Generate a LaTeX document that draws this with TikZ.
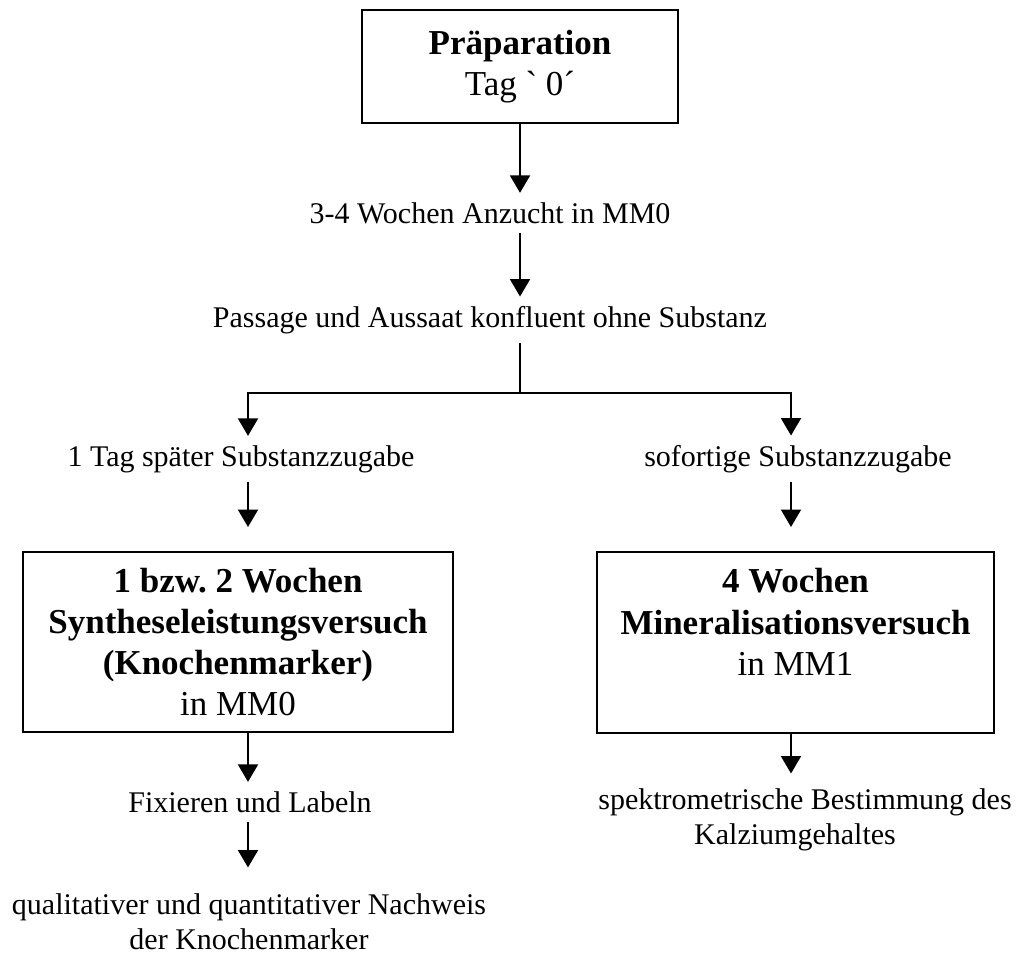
\documentclass[tikz,border=0pt]{standalone}
\usepackage{fontspec}
\setmainfont{Liberation Serif}
\usepackage{tikz}
\usetikzlibrary{arrows.meta, positioning, calc}
\frenchspacing

\begin{document}
\begin{tikzpicture}[x=0.4pt, y=-0.4pt, line width=0.8pt,
		Arr/.style={-{Triangle[width=8pt,length=7pt]}},
		Box/.style={
			draw,
			align=center,
			inner sep=0pt,
			font=\fontsize{14}{16.5}\selectfont
		},
		Note/.style={
			align=center,
			font=\fontsize{12}{13.8}\selectfont
		}]
		\useasboundingbox (0,0) rectangle (1026,953);
		% boxes
		\node[Box, minimum width=126.4pt, minimum height=45.2pt] (prep) at (520,66.5)
			{\textbf{Präparation}\\Tag \textasciigrave{} 0\textasciiacute};
		\node[Box, minimum width=172pt, minimum height=72pt] (synth) at (238,642)
			{\textbf{1 bzw. 2 Wochen}\\\textbf{Syntheseleistungsversuch}\\\textbf{(Knochenmarker)}\\in MM0};
		\node[Box, minimum width=158.8pt, minimum height=72.4pt] (miner) at (795.5,642.5)
			{\textbf{4 Wochen}\\\textbf{Mineralisationsversuch}\\in MM1\\\mbox{}};
		% texts between the boxes
		\node[Note, anchor=base] (anz) at (490,223) {3-4 Wochen Anzucht in MM0};
		\node[Note, anchor=base] (pass) at (490,327) {Passage und Aussaat konfluent ohne Substanz};
		\node[Note, anchor=base] (later) at (241,466) {1 Tag später Substanzzugabe};
		\node[Note, anchor=base] (sofort) at (798,466) {sofortige Substanzzugabe};
		\node[Note, anchor=base] (fix) at (250,812) {Fixieren und Labeln};
		\node[Note, anchor=north] (nachw) at (249,884.5)
			{qualitativer und quantitativer Nachweis\\der Knochenmarker};
		\node[Note, anchor=north] (spek) at (805,779.5)
			{spektrometrische Bestimmung des\\Kalziumgehaltes\hspace*{8pt}};
		\coordinate (fork) at (520,393);
		\coordinate (lcol) at (248,393);
		\coordinate (rcol) at (791,393);
		% arrows
		\draw[Arr] (prep.south) -- (prep.south |- anz.north);
		\draw[Arr] (fork |- anz.south) -- (fork |- pass.north);
		\draw (fork |- pass.south) -- (fork);
		\draw[Arr] (fork) -- (lcol) -- (lcol |- later.north);
		\draw[Arr] (fork) -- (rcol) -- (rcol |- sofort.north);
		\draw[Arr, shorten >=9.6pt] (lcol |- later.south) -- (lcol |- synth.north);
		\draw[Arr, shorten >=9.6pt] (rcol |- sofort.south) -- (rcol |- miner.north);
		\draw[Arr] (lcol |- synth.south) -- (lcol |- fix.north);
		\draw[Arr, shorten >=6.8pt] (lcol |- fix.south) -- (lcol |- nachw.north);
		\draw[Arr, shorten >=2.4pt] (rcol |- miner.south) -- (rcol |- spek.north);
	\end{tikzpicture}
\end{document}
